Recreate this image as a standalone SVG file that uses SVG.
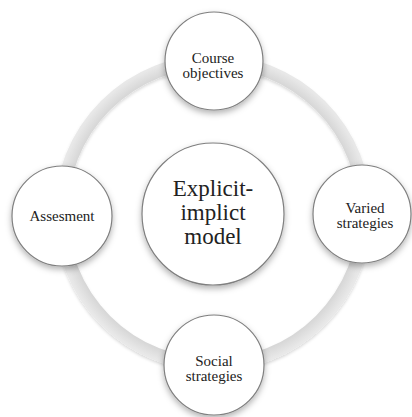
<svg xmlns="http://www.w3.org/2000/svg" width="412" height="417" viewBox="0 0 412 417">
  <defs>
    <filter id="shadow" x="-30%" y="-30%" width="160%" height="170%">
      <feDropShadow dx="0" dy="3" stdDeviation="3" flood-color="#000" flood-opacity="0.3"/>
    </filter>
    <filter id="ringshadow" x="-10%" y="-10%" width="120%" height="120%">
      <feDropShadow dx="0" dy="2" stdDeviation="1.5" flood-color="#000" flood-opacity="0.15"/>
    </filter>
    <radialGradient id="ringgrad" cx="213" cy="213" r="160" gradientUnits="userSpaceOnUse">
      <stop offset="0.9" stop-color="#d4d4d4"/>
      <stop offset="0.98" stop-color="#e8e8e8"/>
    </radialGradient>
  </defs>
  <style>
    .node { fill: #ffffff; stroke: #7f7f7f; stroke-width: 1.2; filter: url(#shadow); }
    .lbl { font-family: "Liberation Serif", "DejaVu Serif", serif; font-size: 15px; fill: #222; text-anchor: middle; }
    .big { font-family: "Liberation Serif", "DejaVu Serif", serif; font-size: 23px; fill: #222; text-anchor: middle; }
  </style>
  <rect width="412" height="417" fill="#ffffff"/>
  <g id="connectors">
    <circle cx="213" cy="213" r="152" fill="none" stroke="url(#ringgrad)" stroke-width="13" filter="url(#ringshadow)"/>
  </g>
  <g id="center">
    <circle class="node" cx="213" cy="214" r="71"/>
    <text class="big" x="213" y="196">Explicit-</text>
    <text class="big" x="213" y="220">implict</text>
    <text class="big" x="213" y="244">model</text>
  </g>
  <g id="course">
    <circle class="node" cx="214" cy="61" r="49"/>
    <text class="lbl" x="213" y="63">Course</text>
    <text class="lbl" x="213" y="78">objectives</text>
  </g>
  <g id="assesment">
    <circle class="node" cx="62" cy="216" r="50"/>
    <text class="lbl" x="62" y="221">Assesment</text>
  </g>
  <g id="varied">
    <circle class="node" cx="362" cy="214" r="49"/>
    <text class="lbl" x="365" y="213">Varied</text>
    <text class="lbl" x="365" y="228">strategies</text>
  </g>
  <g id="social">
    <circle class="node" cx="214" cy="365" r="50"/>
    <text class="lbl" x="214" y="366">Social</text>
    <text class="lbl" x="214" y="381">strategies</text>
  </g>
</svg>
